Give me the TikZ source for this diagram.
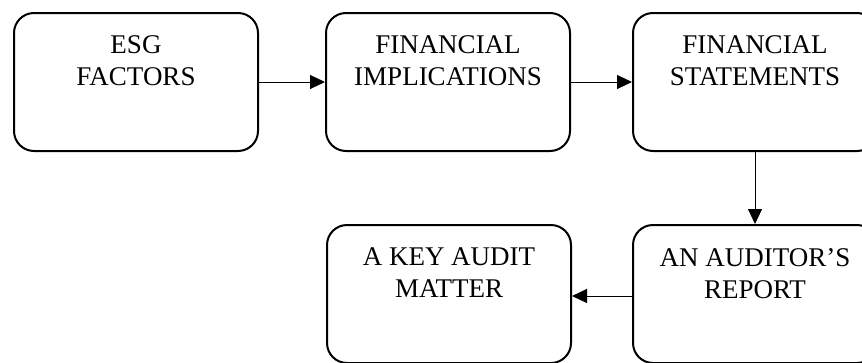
\documentclass[tikz,border=0pt]{standalone}
\usepackage{fontspec}
\setmainfont{Liberation Serif}
\usetikzlibrary{arrows.meta}
\tikzset{
  box/.style={draw=black, line width=2pt, rounded corners=20pt, minimum width=244pt, minimum height=138pt, inner sep=0pt, anchor=north west},
  lbl/.style={anchor=north, align=center, inner sep=0pt, font=\fontsize{27pt}{32pt}\selectfont},
  arr/.style={line width=1pt, -{Triangle[length=15pt,width=14pt]}}
}
\begin{document}
\begin{tikzpicture}[x=1pt,y=-1pt]
\useasboundingbox (0,0) rectangle (862,362);
\clip (0,0) rectangle (862,362);
\node[box] (b1) at (13,12) {};
\node[box] (b2) at (325,12) {};
\node[box] (b3) at (632,12) {};
\node[box] (b4) at (632,224) {};
\node[box] (b5) at (326,224) {};
\node[lbl] (t1) at ([yshift=-23pt]b1.north) {ESG\\FACTORS};
\node[lbl] (t2) at ([yshift=-23pt]b2.north) {FINANCIAL\\IMPLICATIONS};
\node[lbl] (t3) at ([yshift=-23pt]b3.north) {FINANCIAL\\STATEMENTS};
\node[lbl] (t4) at ([yshift=-24pt]b4.north) {AN AUDITOR’S\\REPORT};
\node[lbl] (t5) at ([yshift=-23pt]b5.north) {A KEY AUDIT\\MATTER};
\draw[arr] (b1.east) -- (b2.west);
\draw[arr] (b2.east) -- (b3.west);
\draw[arr] (b3.south) -- (b4.north);
\draw[arr] ([yshift=-2pt]b4.west) -- ([yshift=-2pt]b5.east);
\end{tikzpicture}
\end{document}
